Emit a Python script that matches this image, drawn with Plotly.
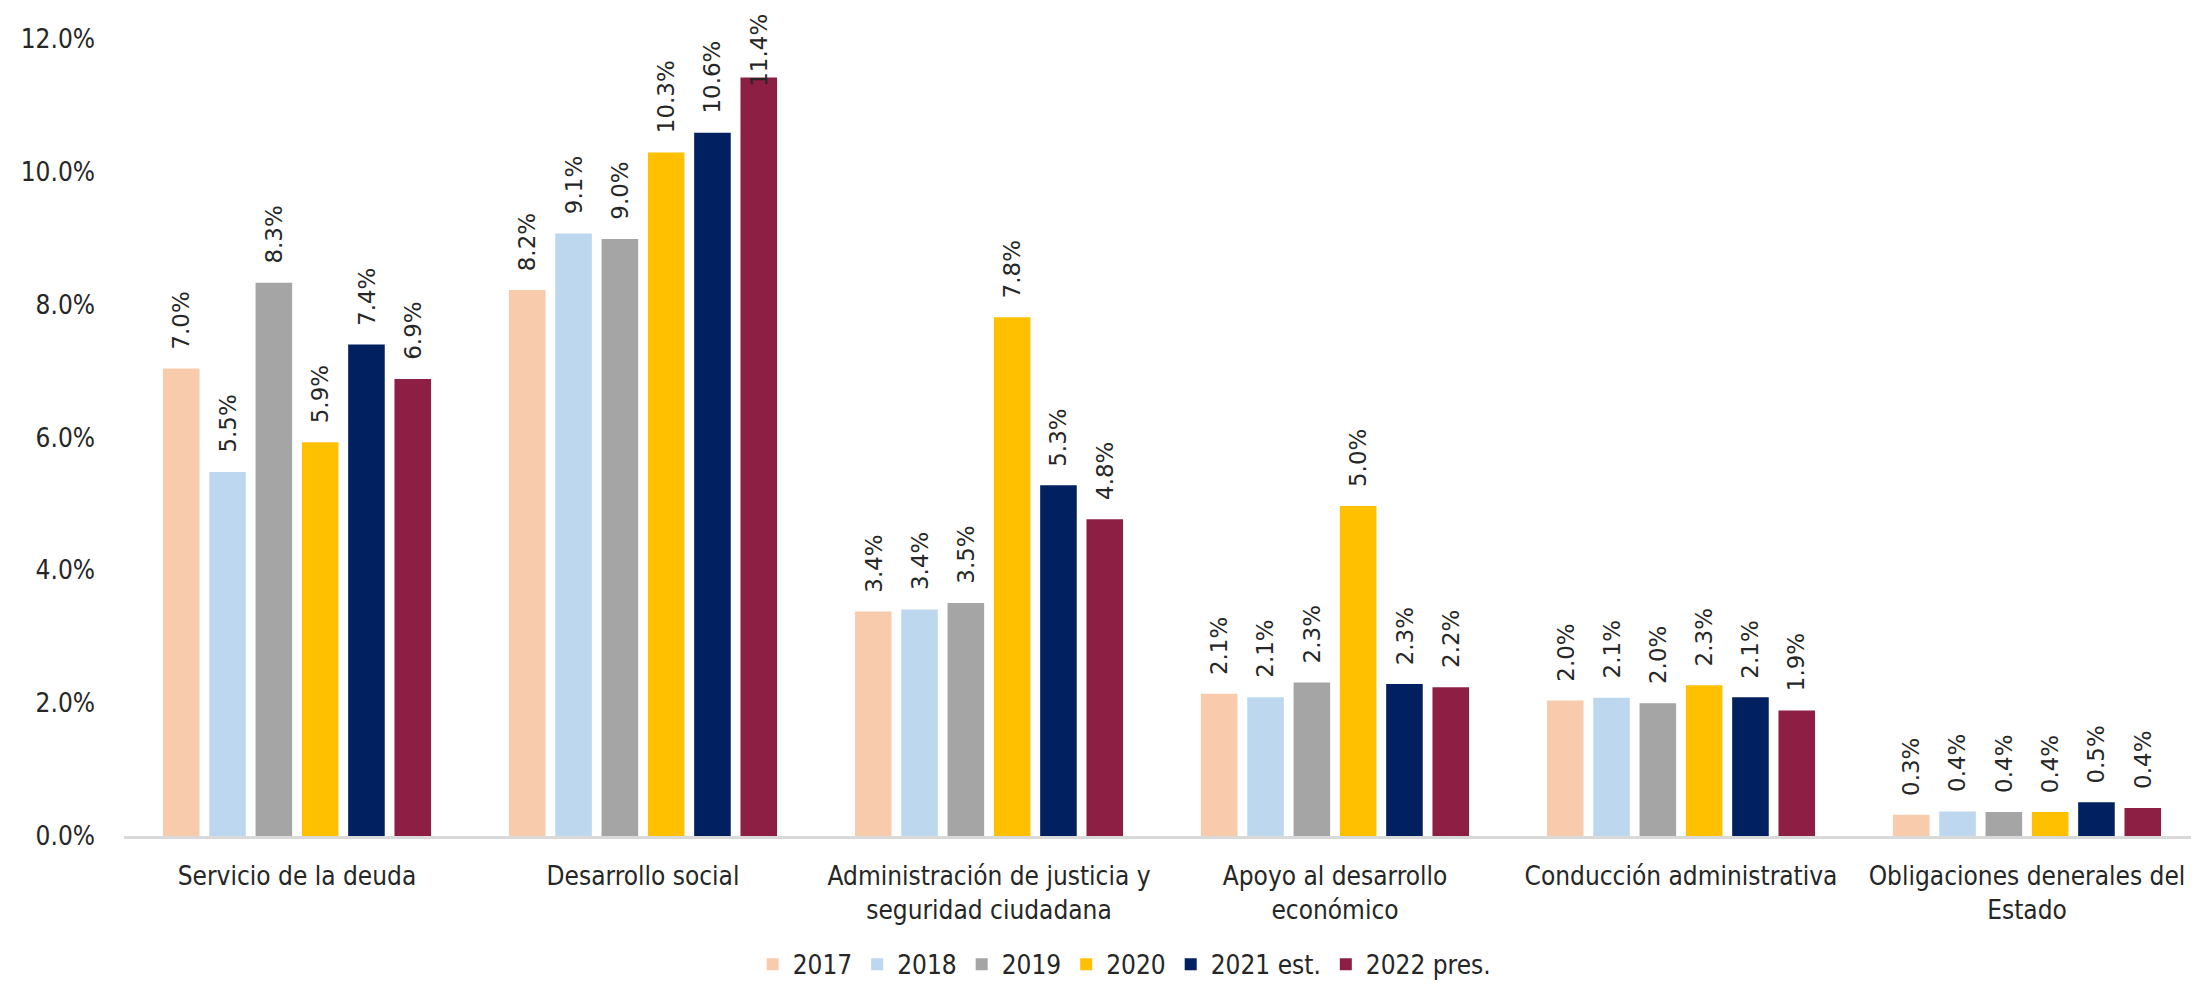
import plotly.graph_objects as go

categories = [
    "Servicio de la deuda",
    "Desarrollo social",
    "Administración de justicia y<br>seguridad ciudadana",
    "Apoyo al desarrollo<br>económico",
    "Conducción administrativa",
    "Obligaciones denerales del<br>Estado",
]
series_names = ["2017", "2018", "2019", "2020", "2021 est.", "2022 pres."]
v2017 = [7.04, 8.22, 3.38, 2.14, 2.04, 0.32]
v2018 = [5.48, 9.07, 3.41, 2.09, 2.08, 0.37]
v2019 = [8.33, 8.99, 3.51, 2.31, 2.00, 0.36]
v2020 = [5.93, 10.29, 7.81, 4.97, 2.27, 0.36]
v2021 = [7.40, 10.59, 5.28, 2.29, 2.09, 0.51]
v2022 = [6.88, 11.42, 4.77, 2.24, 1.89, 0.42]
series_values = [v2017, v2018, v2019, v2020, v2021, v2022]
colors = ["#F8CBAD", "#BDD7EE", "#A5A5A5", "#FFC000", "#002060", "#8C1F43"]
y_ticks = [0, 2, 4, 6, 8, 10, 12]

W, H = 2199, 987
ML, MR, MT, MB = 116, 7, 31, 148
Y_MAX = 12
BARGAP = 0.197
BARGROUPGAP = 0.21
TICK_FONT = "Liberation Sans Narrow, DejaVu Sans Condensed, Lato, sans-serif"
TICK_SIZE = 26
LABEL_FONT = "DejaVu Sans, sans-serif"
LABEL_SIZE = 23
LABEL_GAP = 17
TEXT_COLOR = "#262626"

fig = go.Figure()
for name, vals, col in zip(series_names, series_values, colors):
    fig.add_trace(go.Bar(
        x=categories, y=vals, name=name,
        marker=dict(color=col, line=dict(width=0)),
        hoverinfo="skip",
    ))

# data labels (rotated), pushed down onto the bar when there is no room above
plot_w = W - ML - MR
plot_h = H - MT - MB
cat_w = plot_w / len(categories)
slot = cat_w * (1 - BARGAP) / len(series_names)
for i, vals in enumerate(series_values):
    for c, v in zip(categories, vals):
        txt = f"{v:.1f}%"
        n_dig = sum(ch.isdigit() for ch in txt)
        est_len = LABEL_SIZE * (0.636 * n_dig + 0.318 + 0.95)
        bar_top_px = MT + (Y_MAX - v) / Y_MAX * plot_h
        ysh = min(LABEL_GAP, bar_top_px - est_len - 8)
        fig.add_annotation(
            x=c, y=v, xref="x", yref="y",
            text=txt, showarrow=False, textangle=-90,
            xanchor="center", yanchor="bottom",
            xshift=(i - (len(series_names) - 1) / 2) * slot, yshift=ysh,
            font=dict(family=LABEL_FONT, size=LABEL_SIZE, color=TEXT_COLOR),
        )

fig.update_layout(
    width=W, height=H,
    margin=dict(l=ML, r=MR, t=MT, b=MB),
    paper_bgcolor="white", plot_bgcolor="white",
    barmode="group", bargap=BARGAP, bargroupgap=BARGROUPGAP,
    showlegend=True,
    legend=dict(
        orientation="h", x=0.482, xanchor="center", y=-0.161, yanchor="middle",
        font=dict(family=TICK_FONT, size=TICK_SIZE, color=TEXT_COLOR),
        traceorder="normal",
    ),
    font=dict(family=TICK_FONT, size=TICK_SIZE, color=TEXT_COLOR),
)
fig.update_xaxes(
    showline=True, linecolor="#D9D9D9", linewidth=3,
    showgrid=False, ticks="", ticklabelstandoff=15,
    tickfont=dict(family=TICK_FONT, size=TICK_SIZE, color=TEXT_COLOR),
)
fig.update_yaxes(
    range=[0, Y_MAX], tickvals=y_ticks,
    ticktext=[f"{t:.1f}%" for t in y_ticks],
    showgrid=False, zeroline=False, showline=False, ticks="",
    ticklabelstandoff=28,
    tickfont=dict(family=TICK_FONT, size=TICK_SIZE, color=TEXT_COLOR),
)

fig.write_html("out.html")
